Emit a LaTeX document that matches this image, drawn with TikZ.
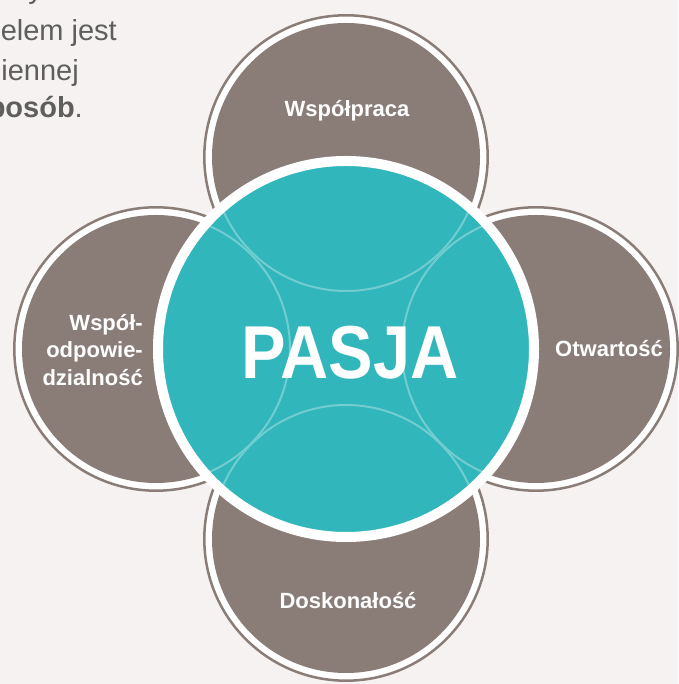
\documentclass[tikz,border=0pt]{standalone}
\usepackage{graphicx}
\usepackage{fontspec}
\setmainfont{Liberation Sans}
\definecolor{tlo}{HTML}{F5F2F1}
\definecolor{braz}{HTML}{8A7D78}
\definecolor{turkus}{HTML}{31B6BC}
\definecolor{luk}{HTML}{72CDD1}
\definecolor{tekst}{HTML}{5E5E5E}
\tikzset{
  wartosc/.style={text=white, font=\fontsize{22}{27.5}\selectfont\bfseries, inner sep=0pt},
  opis/.style={text=tekst, font=\fontsize{29}{40}\selectfont, inner sep=0pt, anchor=base east},
  kolo/.style={draw=braz, line width=2.5pt, fill=white}
}
\begin{document}
\begin{tikzpicture}[x=1pt,y=1pt]
\useasboundingbox (0,0) rectangle (678,684);
\fill[tlo] (0,0) rectangle (678,684);
\coordinate (s) at (346,335);
\coordinate (g) at (346,527);
\coordinate (d) at (346,145);
\coordinate (l) at (156,335);
\coordinate (p) at (536,335);
\foreach \c in {g,d,l,p} {
  \draw[kolo] (\c) circle (141.7);
  \fill[braz] (\c) circle (134);
}
\fill[turkus] (s) circle (188);
\begin{scope}
\clip (s) circle (188);
\foreach \c in {g,d,l,p}
  \draw[luk, line width=2pt] (\c) circle (134);
\end{scope}
\draw[white, line width=10pt] (s) circle (188);
\node[opis] (opis1) at (43,685) {y};
\node[opis] (opis2) at (117,643) {elem jest};
\node[opis] (opis3) at (79,603) {iennej};
\node[opis] (opis4) at (83,566) {\textbf{posób}.};
\node[wartosc, anchor=base] (wspolpraca) at (347,567) {Współpraca};
\node[wartosc, anchor=base] (otwartosc) at (609,327) {Otwartość};
\node[wartosc, anchor=base] (doskonalosc) at (348,75) {Doskonałość};
\node[wartosc, anchor=north east, align=right] (odpowiedzialnosc) at (143,370) {Współ-\\odpowie-\\dzialność};
\node[text=white, font=\fontsize{75}{75}\selectfont\bfseries, inner sep=0pt, anchor=base] (pasja) at (350,305) {\scalebox{0.89}[1]{PASJA}};
\end{tikzpicture}
\end{document}
